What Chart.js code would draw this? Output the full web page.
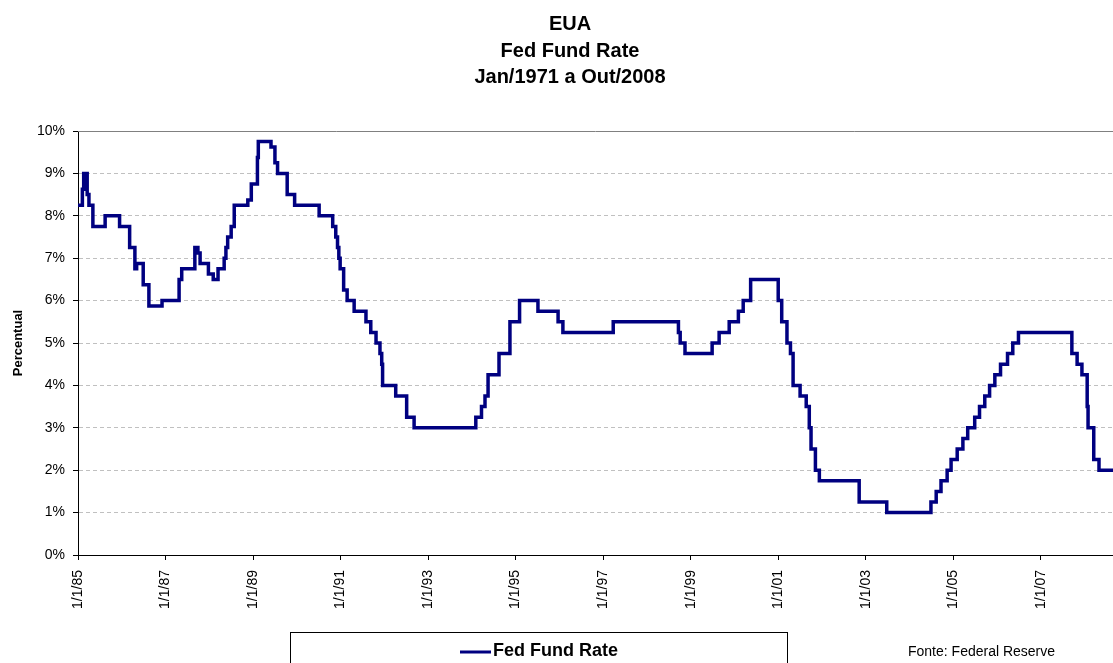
<!DOCTYPE html>
<html>
<head>
<meta charset="utf-8">
<script src="https://cdn.jsdelivr.net/npm/chart.js@4.4.0/dist/chart.umd.min.js"></script>
<style>
html,body{margin:0;padding:0;background:#fff;overflow:hidden}
</style>
</head>
<body>
<canvas id="grafico" width="1113" height="663"></canvas>
<script>
const tituloLinhas=['EUA','Fed Fund Rate','Jan/1971 a Out/2008'];
const serieNome='Fed Fund Rate';
const fonte='Fonte: Federal Reserve';

// datas em anos decimais, taxa vale ate a proxima mudanca
const datas=[1985.00,1985.10,1985.13,1985.21,1985.25,1985.34,1985.62,1985.95,
  1986.18,1986.30,1986.34,1986.49,1986.62,1986.92,
  1987.31,1987.37,1987.67,1987.74,1987.79,1987.98,
  1988.09,1988.20,1988.34,1988.38,1988.42,1988.50,1988.57,1988.88,1988.96,
  1989.10,1989.12,1989.41,1989.50,1989.56,1989.78,1989.95,
  1990.51,1990.82,1990.89,1990.93,1990.96,1990.99,
  1991.07,1991.15,1991.31,1991.58,1991.69,1991.81,1991.90,1991.94,1991.96,
  1992.26,1992.51,1992.68,
  1994.09,1994.22,1994.30,1994.37,1994.62,1994.87,
  1995.09,1995.51,1995.97,1996.08,1997.23,
  1998.72,1998.76,1998.87,1999.49,1999.65,1999.88,
  2000.09,2000.20,2000.37,
  2001.00,2001.08,2001.20,2001.28,2001.34,2001.50,2001.64,2001.71,2001.75,2001.85,2001.94,
  2002.85,2003.48,
  2004.49,2004.61,2004.72,2004.86,2004.95,
  2005.09,2005.22,2005.33,2005.49,2005.60,2005.72,2005.83,2005.95,
  2006.08,2006.24,2006.36,2006.49,
  2007.71,2007.83,2007.94,
  2008.06,2008.08,2008.21,2008.33,2008.75];
const taxas=[8.25,8.625,9.0,8.5,8.25,7.75,8.0,7.75,
  7.25,6.75,6.875,6.375,5.875,6.0,
  6.5,6.75,7.25,7.125,6.875,6.625,
  6.5,6.75,7.0,7.25,7.5,7.75,8.25,8.375,8.75,
  9.375,9.75,9.625,9.25,9.0,8.5,8.25,
  8.0,7.75,7.5,7.25,7.0,6.75,
  6.25,6.0,5.75,5.5,5.25,5.0,4.75,4.5,4.0,
  3.75,3.25,3.0,
  3.25,3.5,3.75,4.25,4.75,5.5,
  6.0,5.75,5.5,5.25,5.5,
  5.25,5.0,4.75,5.0,5.25,5.5,
  5.75,6.0,6.5,
  6.0,5.5,5.0,4.75,4.0,3.75,3.5,3.0,2.5,2.0,1.75,
  1.25,1.0,
  1.25,1.5,1.75,2.0,2.25,
  2.5,2.75,3.0,3.25,3.5,3.75,4.0,4.25,
  4.5,4.75,5.0,5.25,
  4.75,4.5,4.25,
  3.5,3.0,2.25,2.0,2.0];

const anosTicks=[1985,1987,1989,1991,1993,1995,1997,1999,2001,2003,2005,2007];
const rotulosX=['1/1/85','1/1/87','1/1/89','1/1/91','1/1/93','1/1/95','1/1/97','1/1/99','1/1/01','1/1/03','1/1/05','1/1/07'];
const rotulosY=['0%','1%','2%','3%','4%','5%','6%','7%','8%','9%','10%'];

const fam='Arial, "Liberation Sans", sans-serif';

const desenhos={
  id:'desenhos',
  beforeDatasetsDraw(chart){
    const ctx=chart.ctx, a=chart.chartArea;
    ctx.save();
    ctx.strokeStyle='#808080';
    ctx.lineWidth=1;
    ctx.beginPath();
    ctx.moveTo(a.left,a.top+0.5);
    ctx.lineTo(a.right,a.top+0.5);
    ctx.stroke();
    ctx.restore();
  },
  afterDraw(chart){
    const ctx=chart.ctx;
    ctx.save();
    ctx.fillStyle='#000';
    ctx.textAlign='center';
    ctx.textBaseline='alphabetic';
    ctx.font='bold 20px '+fam;
    tituloLinhas.forEach((t,i)=>ctx.fillText(t,570,30+i*26.5));

    // caixa da legenda
    ctx.strokeStyle='#000';
    ctx.lineWidth=1;
    ctx.strokeRect(290.5,632.5,497,40);
    ctx.strokeStyle='#000080';
    ctx.lineWidth=3;
    ctx.beginPath();
    ctx.moveTo(460,652);
    ctx.lineTo(491,652);
    ctx.stroke();
    ctx.textAlign='left';
    ctx.textBaseline='middle';
    ctx.font='bold 18px '+fam;
    ctx.fillText(serieNome,493,651);

    ctx.font='14px '+fam;
    ctx.fillText(fonte,908,652);
    ctx.restore();
  }
};

new Chart(document.getElementById('grafico').getContext('2d'),{
  type:'line',
  data:{
    datasets:[{
      label:serieNome,
      data:datas.map((d,i)=>({x:d,y:taxas[i]})),
      borderColor:'#000080',
      borderWidth:3.5,
      stepped:true,
      fill:false,
      pointRadius:0
    }]
  },
  options:{
    responsive:false,
    animation:false,
    devicePixelRatio:1,
    layout:{padding:{top:131,right:0,bottom:0,left:0}},
    plugins:{legend:{display:false},title:{display:false},tooltip:{enabled:false}},
    scales:{
      x:{
        type:'linear',
        min:1985,
        max:2008.65,
        afterBuildTicks:ax=>{ax.ticks=anosTicks.map(v=>({value:v}));},
        afterFit:ax=>{ax.height=108;},
        grid:{drawOnChartArea:false,drawTicks:true,tickLength:5,tickColor:'#000'},
        border:{color:'#000',width:1},
        ticks:{autoSkip:false,minRotation:90,maxRotation:90,padding:10,color:'#000',
          font:{family:fam,size:14},
          callback:(v,i)=>rotulosX[i]}
      },
      y:{
        min:0,
        max:10,
        afterFit:ax=>{ax.width=78;},
        grid:{color:c=>(c.tick&&c.tick.value===10)?'rgba(0,0,0,0)':'#c0c0c0',tickLength:5,tickColor:'#000'},
        border:{color:'#000',width:1,dash:[4,3]},
        ticks:{stepSize:1,padding:8,color:'#000',font:{family:fam,size:14},
          callback:(v,i)=>rotulosY[i]},
        title:{display:true,text:'Percentual',color:'#000',
          font:{family:fam,size:13,weight:'bold'},padding:{top:11,bottom:0}}
      }
    }
  },
  plugins:[desenhos]
});
</script>
</body>
</html>
